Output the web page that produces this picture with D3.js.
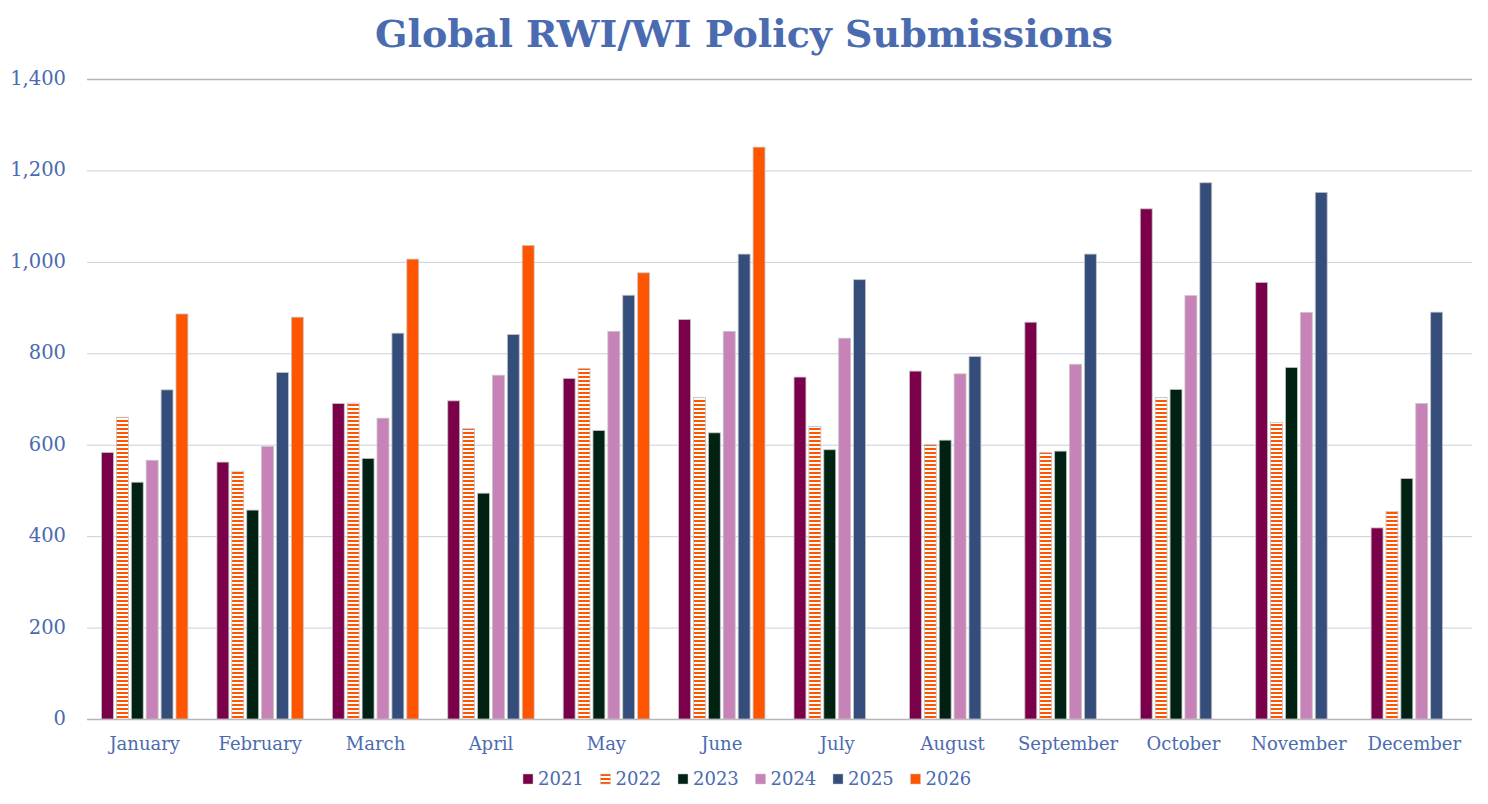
<!DOCTYPE html>
<html>
<meta charset="utf-8">
<style>
    body {
        margin: 0;
        background: #fff;
    }

    text {
        font-family: Georgia, 'DejaVu Serif', serif;
        fill: #4a6bb0;
    }
</style>

<body>
    <svg id="chart" width="1488" height="804"></svg>
    <script src="https://cdn.jsdelivr.net/npm/d3@7"></script>
    <script>

        const months = ["January", "February", "March", "April", "May", "June",
            "July", "August", "September", "October", "November", "December"]
        const years = ["2021", "2022", "2023", "2024", "2025", "2026"]

        const v2021 = [583, 562, 690, 696, 745, 874, 748, 761, 868, 1116, 955, 418]
        const v2022 = [660, 542, 691, 635, 767, 703, 640, 600, 583, 703, 649, 454]
        const v2023 = [518, 457, 570, 494, 631, 626, 589, 610, 586, 721, 769, 526]
        const v2024 = [566, 596, 658, 752, 848, 848, 833, 755, 776, 926, 889, 690]
        const v2025 = [720, 758, 844, 841, 927, 1017, 961, 793, 1017, 1173, 1152, 890]
        const v2026 = [886, 879, 1006, 1036, 976, 1251, null, null, null, null, null, null]

        const yTicks = [0, 200, 400, 600, 800, 1000, 1200, 1400]

        const series = [v2021, v2022, v2023, v2024, v2025, v2026]
        const colors = ["#7b004a", "url(#hatch)", "#012112", "#c783b8", "#354d7a", "#ff5500"]

        const chart = d3.select("#chart")

        const margin = { left: 87, right: 16, top: 79, bottom: 85 }
        const width = 1488, height = 804

        // horizontal stripe fill for 2022
        const pat = chart.append("defs").append("pattern")
            .attr("id", "hatch")
            .attr("patternUnits", "userSpaceOnUse")
            .attr("width", 8)
            .attr("height", 4)
        pat.append("rect").attr("width", 8).attr("height", 4).attr("fill", "#fff")
        pat.append("rect").attr("width", 8).attr("height", 2).attr("fill", "#ff5500")

        const x0 = d3.scaleBand()
            .domain(months)
            .range([margin.left, width - margin.right])
            .paddingInner(0.2)
            .paddingOuter(0.1)

        const x1 = d3.scaleBand()
            .domain(years)
            .range([0, x0.bandwidth()])
            .padding(0.2)

        const y = d3.scaleLinear()
            .domain([0, 1400])
            .range([height - margin.bottom, margin.top])

        // gridlines
        chart.append("g")
            .selectAll("line")
            .data(yTicks)
            .enter()
            .append("line")
            .attr("x1", margin.left)
            .attr("x2", width - margin.right)
            .attr("y1", d => y(d) + 0.5)
            .attr("y2", d => y(d) + 0.5)
            .attr("stroke", d => (d == 0 || d == 1400) ? "#b4b4bc" : "#c9cedc")
            .attr("stroke-width", d => (d == 0 || d == 1400) ? 1.5 : 1)

        // y tick labels
        chart.append("g")
            .selectAll("text")
            .data(yTicks)
            .enter()
            .append("text")
            .attr("x", 66)
            .attr("y", d => y(d) + 6)
            .attr("text-anchor", "end")
            .style("font-size", "19.5px")
            .text(d3.format(","))

        // bars
        const groups = chart.append("g")
            .selectAll("g")
            .data(months)
            .enter()
            .append("g")
            .attr("transform", d => "translate(" + x0(d) + ",0)")

        groups.selectAll("rect")
            .data((m, i) => years.map((yr, k) => ({ year: yr, value: series[k][i], k: k })))
            .enter()
            .filter(d => d.value != null)
            .append("rect")
            .attr("x", d => x1(d.year))
            .attr("y", d => y(d.value))
            .attr("width", x1.bandwidth())
            .attr("height", d => y(0) - y(d.value))
            .attr("fill", d => colors[d.k])
            .attr("stroke", "#c4c4c4")
            .attr("stroke-width", 0.8)

        // month labels
        chart.append("g")
            .selectAll("text")
            .data(months)
            .enter()
            .append("text")
            .attr("x", d => x0(d) + x0.bandwidth() / 2)
            .attr("y", 750)
            .attr("text-anchor", "middle")
            .style("font-size", "18px")
            .text(d => d)

        // title
        chart.append("text")
            .attr("x", width / 2)
            .attr("y", 47)
            .attr("text-anchor", "middle")
            .style("font-size", "38px")
            .style("font-weight", "bold")
            .text("Global RWI/WI Policy Submissions")

        // legend
        const legendStart = 523
        const legendStep = 77.5
        const legend = chart.append("g")
            .selectAll("g")
            .data(years)
            .enter()
            .append("g")
            .attr("transform", (d, i) => "translate(" + (legendStart + i * legendStep) + ",774)")

        legend.append("rect")
            .attr("width", 10)
            .attr("height", 10)
            .attr("fill", (d, i) => colors[i])
            .attr("stroke", "#c4c4c4")
            .attr("stroke-width", 0.5)

        legend.append("text")
            .attr("x", 15)
            .attr("y", 11)
            .style("font-size", "18px")
            .text(d => d)

    </script>
</body>

</html>
